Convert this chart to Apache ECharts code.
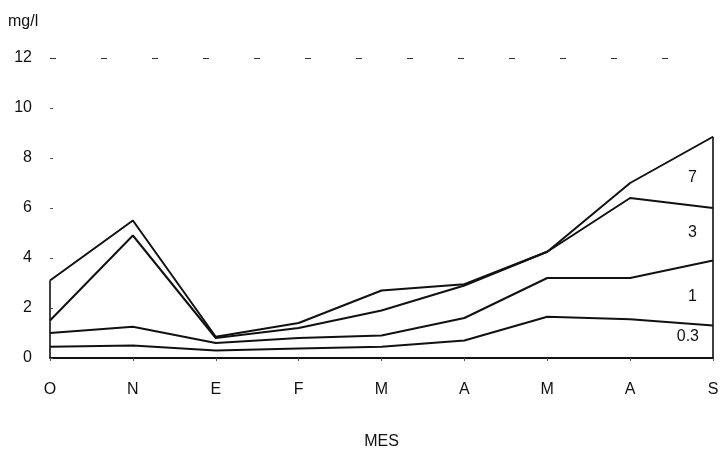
<!DOCTYPE html>
<html>
<head>
    <meta charset="utf-8">
    <script src="https://cdn.jsdelivr.net/npm/echarts@6/dist/echarts.min.js"></script>
</head>
<body style="margin:0;background:#fff;">
<div id="main" style="width: 720px;height:452px;"></div>
<script type="text/javascript">
    // meses (oct -> sep)
    var meses = ['O', 'N', 'E', 'F', 'M', 'A', 'M', 'A', 'S'];
    var yTicks = [0, 2, 4, 6, 8, 10, 12];

    // concentraciones, mg/l
    var serie7 = [3.1, 5.5, 0.85, 1.4, 2.7, 2.95, 4.25, 7.0, 8.85];
    var serie3 = [1.5, 4.9, 0.8, 1.2, 1.9, 2.9, 4.25, 6.4, 6.0];
    var serie1 = [1.0, 1.25, 0.6, 0.8, 0.9, 1.6, 3.2, 3.2, 3.9];
    var serie03 = [0.45, 0.5, 0.3, 0.38, 0.45, 0.7, 1.65, 1.55, 1.3];

    var nombres = ['7', '3', '1', '0.3'];
    var series = [serie7, serie3, serie1, serie03];
    // posicion vertical de las etiquetas (en mg/l), cerca de S
    var etiquetaY = [7.2, 5.0, 2.45, 0.85];

    var myChart = echarts.init(document.getElementById('main'));
    var fuente = 'Liberation Sans, Arial, sans-serif';

    var lista = series.map(function (d, i) {
        var s = {
            name: nombres[i],
            type: 'line',
            data: d,
            symbol: 'none',
            silent: true,
            lineStyle: {color: '#111', width: 2},
            markPoint: {
                symbol: 'circle',
                symbolSize: 0,
                data: [{coord: [8, etiquetaY[i]], value: nombres[i]}],
                label: {
                    show: true,
                    position: 'left',
                    distance: i === 3 ? 14 : 16,
                    color: '#111',
                    fontSize: 16,
                    fontFamily: fuente,
                    formatter: '{c}'
                }
            }
        };
        if (i === 0) {
            s.markLine = {
                symbol: 'none',
                silent: true,
                label: {show: false},
                lineStyle: {color: '#111', width: 1.6, type: 'solid'},
                data: [
                    [{coord: [0, 0]}, {coord: [0, serie7[0]]}],
                    [{coord: [8, 0]}, {coord: [8, serie7[8]]}],
                    [{coord: [0, 12]}, {coord: [8, 12], lineStyle: {type: [6, 45], width: 1.2, color: '#333'}}]
                ]
            };
        }
        return s;
    });

    myChart.setOption({
        animation: false,
        backgroundColor: '#fff',
        grid: {left: 50, right: 7, top: 58, bottom: 94, containLabel: false, outerBoundsMode: 'none'},
        xAxis: {
            type: 'category',
            data: meses,
            boundaryGap: false,
            name: 'MES',
            nameLocation: 'middle',
            nameGap: 76,
            nameTextStyle: {color: '#111', fontSize: 16, fontFamily: fuente},
            axisLine: {lineStyle: {color: '#111', width: 1.8}},
            axisTick: {show: true, length: 3, lineStyle: {color: '#555'}},
            axisLabel: {color: '#111', fontSize: 16, fontFamily: fuente, margin: 24},
            splitLine: {show: false}
        },
        yAxis: {
            type: 'value',
            min: 0,
            max: 12,
            interval: 2,
            name: 'mg/l',
            nameLocation: 'end',
            nameGap: 28,
            nameTextStyle: {color: '#111', fontSize: 16, fontFamily: fuente, align: 'left', padding: [0, 0, 0, -42]},
            axisLine: {show: false},
            axisTick: {show: true, inside: true, length: 3, lineStyle: {color: '#555'}},
            axisLabel: {
                color: '#111', fontSize: 16, fontFamily: fuente, margin: 18,
                formatter: function (v) { return yTicks.indexOf(v) >= 0 ? String(v) : ''; }
            },
            splitLine: {show: false}
        },
        series: lista
    });
</script>
</body>
</html>
